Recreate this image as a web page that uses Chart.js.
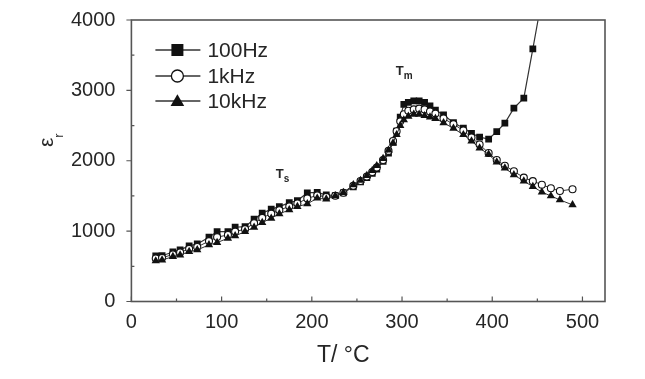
<!DOCTYPE html>
<html>
<head>
<meta charset="utf-8">
<script src="https://cdn.jsdelivr.net/npm/chart.js@4.4.1/dist/chart.umd.min.js"></script>
<style>
  html, body { margin: 0; padding: 0; background: #fff; }
  #wrap { width: 645px; height: 379px; }
</style>
</head>
<body>
<div id="wrap"><canvas id="chart"></canvas></div>
<script>
// temperature (°C) of each measured point
const temps = [27, 34, 46, 54, 64, 73, 86, 95, 107, 115, 126, 136, 145, 155, 164, 175, 184, 195, 206, 216,
    226, 235, 246, 254, 261, 267, 272, 279, 285, 290, 294, 298, 302, 307, 313, 319, 325, 331, 337, 346,
    357, 368, 377, 386, 396, 405, 414, 424, 435, 445, 455, 465, 475, 489];

// relative permittivity for each frequency
const eps100Hz = [647, 650, 704, 733, 790, 818, 913, 993, 993, 1055, 1064, 1169, 1255, 1312, 1348, 1405, 1434, 1545, 1550, 1515,
    1505, 1545, 1630, 1700, 1760, 1820, 1880, 1990, 2110, 2260, 2420, 2620, 2800, 2830, 2850, 2850, 2830, 2780, 2720, 2653,
    2540, 2464, 2390, 2336, 2307, 2415, 2535, 2748, 2890, 3590, 4300, null, null, null];
const eps1kHz = [610, 620, 670, 697, 748, 775, 858, 915, 945, 993, 1028, 1112, 1188, 1248, 1297, 1352, 1392, 1465, 1508, 1486,
    1503, 1546, 1645, 1712, 1775, 1840, 1905, 2010, 2140, 2280, 2420, 2560, 2660, 2710, 2730, 2740, 2730, 2700, 2670, 2600,
    2520, 2430, 2330, 2230, 2110, 2010, 1930, 1850, 1760, 1710, 1660, 1610, 1570, 1596];
const eps10kHz = [576, 590, 637, 661, 708, 733, 804, 837, 899, 932, 993, 1055, 1121, 1183, 1245, 1302, 1348, 1387, 1468, 1454,
    1501, 1548, 1657, 1720, 1790, 1860, 1930, 2030, 2150, 2250, 2370, 2500, 2580, 2630, 2660, 2660, 2640, 2620, 2600, 2540,
    2460, 2370, 2280, 2180, 2090, 1980, 1895, 1800, 1710, 1633, 1555, 1500, 1444, 1373];

const seriesNames = ['100Hz', '1kHz', '10kHz'];
const xTicks = [0, 100, 200, 300, 400, 500];
const xMinorTicks = [50, 150, 250, 350, 450];
const yTicks = [0, 1000, 2000, 3000, 4000];
const yMinorTicks = [500, 1500, 2500, 3500];

const INK = '#111';
const AXIS = '#555';
const TEXT = '#262626';
const FONT = 'Arial, "Liberation Sans", sans-serif';

function points(values) {
    const out = [];
    temps.forEach((t, i) => {
        if (values[i] !== null) out.push({ x: t, y: values[i] });
    });
    return out;
}

function marker(ctx, style, x, y, r) {
    ctx.beginPath();
    if (style === 'rect') {
        ctx.rect(x - r, y - r, r * 2, r * 2);
        ctx.fillStyle = INK;
        ctx.fill();
    } else if (style === 'circle') {
        ctx.arc(x, y, r, 0, Math.PI * 2);
        ctx.fillStyle = '#fff';
        ctx.fill();
        ctx.lineWidth = 1.3;
        ctx.strokeStyle = INK;
        ctx.stroke();
    } else {
        ctx.moveTo(x, y - r * 1.1);
        ctx.lineTo(x + r * 1.1, y + r * 0.8);
        ctx.lineTo(x - r * 1.1, y + r * 0.8);
        ctx.closePath();
        ctx.fillStyle = INK;
        ctx.fill();
    }
}

const decorations = {
    id: 'decorations',
    afterDraw(chart) {
        const ctx = chart.ctx;
        const area = chart.chartArea;
        const xs = chart.scales.x;
        const ys = chart.scales.y;
        ctx.save();

        // ticks: x inward, y major outward / minor inward
        ctx.strokeStyle = AXIS;
        ctx.lineWidth = 1.2;
        ctx.beginPath();
        xTicks.forEach(v => {
            const px = xs.getPixelForValue(v);
            ctx.moveTo(px, area.bottom);
            ctx.lineTo(px, area.bottom - 5);
        });
        xMinorTicks.forEach(v => {
            const px = xs.getPixelForValue(v);
            ctx.moveTo(px, area.bottom);
            ctx.lineTo(px, area.bottom - 3);
        });
        yTicks.forEach(v => {
            const py = ys.getPixelForValue(v);
            ctx.moveTo(area.left - 5, py);
            ctx.lineTo(area.left, py);
        });
        yMinorTicks.forEach(v => {
            const py = ys.getPixelForValue(v);
            ctx.moveTo(area.left, py);
            ctx.lineTo(area.left + 3, py);
        });
        ctx.stroke();

        // frame
        ctx.lineWidth = 1.6;
        ctx.strokeRect(area.left, area.top, area.right - area.left, area.bottom - area.top);

        // legend
        const styles = ['rect', 'circle', 'triangle'];
        const sizes = [6, 6, 6.2];
        const rows = [30, 56, 81];
        ctx.font = '21px ' + FONT;
        ctx.textBaseline = 'middle';
        ctx.textAlign = 'left';
        seriesNames.forEach((name, i) => {
            const y = area.top + rows[i];
            const x0 = area.left + 24;
            ctx.strokeStyle = '#333';
            ctx.lineWidth = 1.3;
            ctx.beginPath();
            ctx.moveTo(x0, y);
            ctx.lineTo(x0 + 45, y);
            ctx.stroke();
            marker(ctx, styles[i], x0 + 22, y, sizes[i]);
            ctx.fillStyle = TEXT;
            ctx.fillText(name, x0 + 52, y + 1);
        });

        // transition labels
        const label = (main, sub, t, e) => {
            const px = xs.getPixelForValue(t);
            const py = ys.getPixelForValue(e);
            ctx.fillStyle = TEXT;
            ctx.textBaseline = 'alphabetic';
            ctx.textAlign = 'left';
            ctx.font = 'bold 13px ' + FONT;
            ctx.fillText(main, px, py);
            const w = ctx.measureText(main).width;
            ctx.font = 'bold 10px ' + FONT;
            ctx.fillText(sub, px + w, py + 4);
        };
        label('T', 's', 160, 1750);
        label('T', 'm', 293, 3220);

        // axis titles
        ctx.fillStyle = TEXT;
        ctx.textAlign = 'center';
        ctx.textBaseline = 'alphabetic';
        ctx.font = '23px ' + FONT;
        ctx.fillText('T/ \u00B0C', (area.left + area.right) / 2 - 25, 362);

        ctx.translate(53, 147);
        ctx.rotate(-Math.PI / 2);
        ctx.textAlign = 'left';
        ctx.font = '21px ' + FONT;
        ctx.fillText('\u03B5', 0, 0);
        const ew = ctx.measureText('\u03B5').width;
        ctx.font = '13px ' + FONT;
        ctx.fillText('r', ew, 10);

        ctx.restore();
    }
};

new Chart(document.getElementById('chart'), {
    type: 'line',
    data: {
        datasets: [
            {
                label: seriesNames[0],
                data: points(eps100Hz),
                borderColor: '#333',
                borderWidth: 1.2,
                pointStyle: 'rect',
                pointRadius: 4.8,
                pointBackgroundColor: INK,
                pointBorderColor: INK,
                pointBorderWidth: 0,
                order: 3
            },
            {
                label: seriesNames[1],
                data: points(eps1kHz),
                borderColor: '#333',
                borderWidth: 1,
                pointStyle: 'circle',
                pointRadius: 3.5,
                pointBackgroundColor: '#fff',
                pointBorderColor: INK,
                pointBorderWidth: 1.1,
                order: 2
            },
            {
                label: seriesNames[2],
                data: points(eps10kHz),
                borderColor: '#333',
                borderWidth: 1,
                pointStyle: 'triangle',
                pointRadius: 4.8,
                pointBackgroundColor: INK,
                pointBorderColor: INK,
                pointBorderWidth: 0,
                order: 1
            }
        ]
    },
    options: {
        responsive: true,
        maintainAspectRatio: false,
        animation: false,
        events: [],
        layout: { padding: { left: 0, right: 40, top: 20, bottom: 47.5 } },
        plugins: {
            legend: { display: false },
            tooltip: { enabled: false }
        },
        scales: {
            x: {
                type: 'linear',
                min: 0,
                max: 525,
                afterBuildTicks: scale => { scale.ticks = xTicks.map(v => ({ value: v })); },
                afterFit: scale => { scale.height = 30; },
                grid: { display: false },
                border: { display: false },
                ticks: {
                    padding: 1,
                    color: TEXT,
                    font: { family: FONT, size: 20 },
                    maxRotation: 0,
                    callback: v => String(v)
                }
            },
            y: {
                type: 'linear',
                min: 0,
                max: 4000,
                afterBuildTicks: scale => { scale.ticks = yTicks.map(v => ({ value: v })); },
                afterFit: scale => { scale.width = 131.4; },
                grid: { display: false },
                border: { display: false },
                ticks: {
                    padding: 8,
                    color: TEXT,
                    font: { family: FONT, size: 20 },
                    callback: v => String(v)
                }
            }
        }
    },
    plugins: [decorations]
});
</script>
</body>
</html>
